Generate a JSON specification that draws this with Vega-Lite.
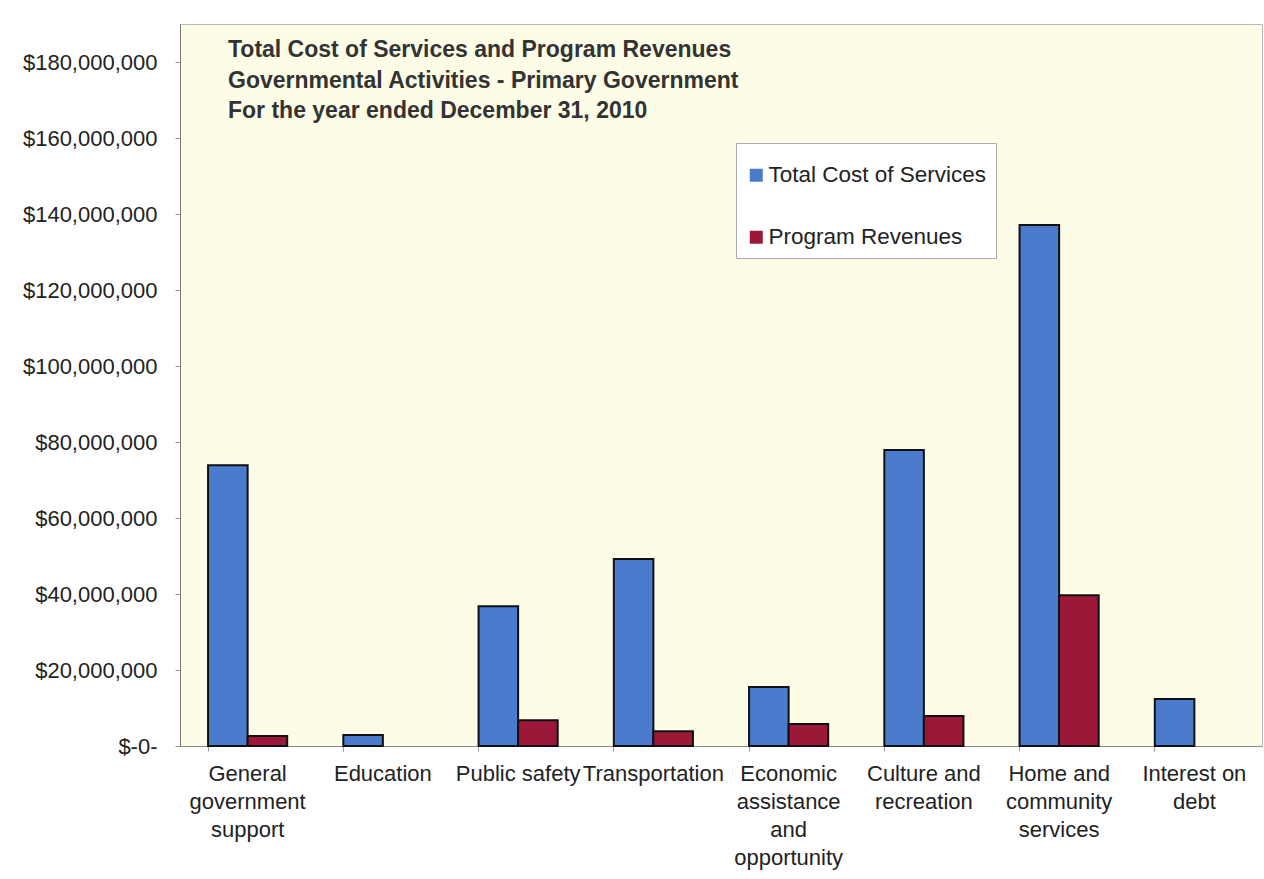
{
  "$schema": "https://vega.github.io/schema/vega-lite/v6.json",
  "autosize": "none",
  "width": 1082,
  "height": 722,
  "padding": {"left": 180, "top": 24, "right": 2, "bottom": 133},
  "background": "#ffffff",
  "config": {
    "font": "Liberation Sans",
    "view": {"fill": "#fdfce6", "stroke": "#b8b8b8", "strokeWidth": 1},
    "axis": {"labelFont": "Liberation Sans", "labelColor": "#222222", "labelFontSize": 22, "domainColor": "#888888", "tickColor": "#999999", "grid": false}
  },
  "title": {
    "text": ["Total Cost of Services and Program Revenues", "Governmental Activities - Primary Government", "For the year ended December 31, 2010"],
    "anchor": "start",
    "frame": "group",
    "orient": "top",
    "baseline": "top",
    "offset": 0,
    "dx": 48,
    "dy": 99,
    "fontSize": 23,
    "fontWeight": "bold",
    "color": "#333333",
    "lineHeight": 30.5,
    "font": "Liberation Sans"
  },
  "data": {
    "values": [
      {"category": "General government support", "series": "Total Cost of Services", "amount": 73900000},
      {"category": "General government support", "series": "Program Revenues", "amount": 2600000},
      {"category": "Education", "series": "Total Cost of Services", "amount": 2900000},
      {"category": "Public safety", "series": "Total Cost of Services", "amount": 36800000},
      {"category": "Public safety", "series": "Program Revenues", "amount": 6800000},
      {"category": "Transportation", "series": "Total Cost of Services", "amount": 49200000},
      {"category": "Transportation", "series": "Program Revenues", "amount": 3900000},
      {"category": "Economic assistance and opportunity", "series": "Total Cost of Services", "amount": 15500000},
      {"category": "Economic assistance and opportunity", "series": "Program Revenues", "amount": 5800000},
      {"category": "Culture and recreation", "series": "Total Cost of Services", "amount": 77900000},
      {"category": "Culture and recreation", "series": "Program Revenues", "amount": 7900000},
      {"category": "Home and community services", "series": "Total Cost of Services", "amount": 137100000},
      {"category": "Home and community services", "series": "Program Revenues", "amount": 39700000},
      {"category": "Interest on debt", "series": "Total Cost of Services", "amount": 12400000}
    ]
  },
  "mark": {"type": "bar", "stroke": "#111111", "strokeWidth": 2},
  "encoding": {
    "x": {
      "field": "category",
      "type": "nominal",
      "sort": null,
      "title": null,
      "scale": {"paddingInner": 0.415, "paddingOuter": 0.2075},
      "axis": {
        "labelAngle": 0,
        "labelPadding": 12,
        "tickSize": 5,
        "bandPosition": 0,
        "labelLineHeight": 28,
        "labelBaseline": "top",
        "labelLimit": 200,
        "labelExpr": "datum.label == 'General government support' ? ['General','government','support'] : datum.label == 'Economic assistance and opportunity' ? ['Economic','assistance','and','opportunity'] : datum.label == 'Culture and recreation' ? ['Culture and','recreation'] : datum.label == 'Home and community services' ? ['Home and','community','services'] : datum.label == 'Interest on debt' ? ['Interest on','debt'] : datum.label"
      }
    },
    "xOffset": {"field": "series", "type": "nominal", "sort": ["Total Cost of Services", "Program Revenues"], "scale": {"domain": ["Total Cost of Services", "Program Revenues"]}},
    "y": {
      "field": "amount",
      "type": "quantitative",
      "title": null,
      "scale": {"domain": [0, 190000000], "nice": false},
      "axis": {
        "values": [0, 20000000, 40000000, 60000000, 80000000, 100000000, 120000000, 140000000, 160000000, 180000000],
        "labelExpr": "datum.value == 0 ? '$-0-' : '$' + format(datum.value, ',.0f')",
        "tickSize": 5,
        "labelPadding": 18,
        "domainColor": "#777777"
      }
    },
    "color": {
      "field": "series",
      "type": "nominal",
      "sort": ["Total Cost of Services", "Program Revenues"],
      "scale": {"domain": ["Total Cost of Services", "Program Revenues"], "range": ["#4a7bcc", "#9c1838"]},
      "legend": {
        "title": " ",
        "titleFontSize": 10,
        "titlePadding": 2,
        "orient": "none",
        "legendX": 556,
        "legendY": 119,
        "padding": 9,
        "rowPadding": 39,
        "fillColor": "#ffffff",
        "strokeColor": "#aaaaaa",
        "symbolType": "square",
        "symbolSize": 169,
        "symbolStrokeWidth": 0,
        "symbolOpacity": 1,
        "labelFontSize": 22.5,
        "labelFont": "Liberation Sans",
        "labelColor": "#222222",
        "labelOffset": 1,
        "labelLimit": 300,
        "encode": {
          "symbols": {
            "update": {
              "fill": [
                {"test": "datum.value === 'Total Cost of Services'", "value": "#2f5189"},
                {"value": "#4a1426"}
              ]
            }
          }
        }
      }
    }
  }
}
